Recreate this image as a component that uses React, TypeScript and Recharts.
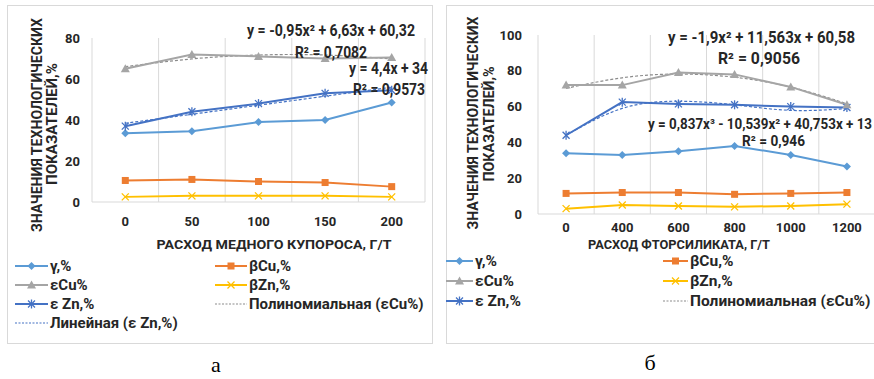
import React from 'react';
import { LineChart, Line, XAxis, YAxis, CartesianGrid } from 'recharts';

// ---------- Chart а ----------
const catsA = ['0', '50', '100', '150', '200'];
const gammaA = [33.5, 34.5, 39, 40, 48.5];
const betaCuA = [10.5, 11, 10, 9.5, 7.5];
const epsCuA = [65, 72, 71, 70, 70.5];
const betaZnA = [2.5, 3, 3, 3, 2.5];
const epsZnA = [37, 44, 48, 53, 54.5];
const polyCuA = [66, 69.8, 71.7, 71.7, 69.8];
const linZnA = [38.4, 42.8, 47.2, 51.6, 56];
const ticksA = [0, 20, 40, 60, 80];

// ---------- Chart б ----------
const catsB = ['0', '400', '600', '800', '1000', '1200'];
const gammaB = [34, 33, 35, 38, 33, 26.5];
const betaCuB = [11.5, 12, 12, 11, 11.5, 12];
const epsCuB = [72, 72, 79, 78, 71, 61];
const betaZnB = [3, 5, 4.5, 4, 4.5, 5.5];
const epsZnB = [44, 62.5, 61.5, 61, 60, 59.5];
const polyCuB = [70.2, 76.1, 78.2, 76.4, 70.9, 61.6];
const cubicZnB = [44, 59, 63, 61, 57.9, 58.9];
const ticksB = [0, 20, 40, 60, 80, 100];

const C = {
  gamma: '#5B9BD5',
  betaCu: '#ED7D31',
  epsCu: '#A5A5A5',
  betaZn: '#FFC000',
  epsZn: '#4472C4',
  polyCu: '#8C8C8C',
  linZn: '#4472C4',
};

const FONT = "Roboto, 'Liberation Sans', Arial, sans-serif";

const dataA = catsA.map((x, i) => ({
  i, x, gamma: gammaA[i], betaCu: betaCuA[i], epsCu: epsCuA[i], betaZn: betaZnA[i],
  epsZn: epsZnA[i], polyCu: polyCuA[i], trendZn: linZnA[i],
}));
const dataB = catsB.map((x, i) => ({
  i, x, gamma: gammaB[i], betaCu: betaCuB[i], epsCu: epsCuB[i], betaZn: betaZnB[i],
  epsZn: epsZnB[i], polyCu: polyCuB[i], trendZn: cubicZnB[i],
}));

type MK = 'diamond' | 'square' | 'triangle' | 'x' | 'star';

function Marker({ kind, cx, cy, color }: { kind: MK; cx: number; cy: number; color: string }) {
  if (cx == null || cy == null || isNaN(cx) || isNaN(cy)) return null;
  const r = 4;
  switch (kind) {
    case 'diamond':
      return <polygon points={`${cx},${cy - r} ${cx + r},${cy} ${cx},${cy + r} ${cx - r},${cy}`} fill={color} />;
    case 'square':
      return <rect x={cx - 3.5} y={cy - 3.5} width={7} height={7} fill={color} />;
    case 'triangle':
      return <polygon points={`${cx},${cy - 4.5} ${cx + 4.5},${cy + 3.5} ${cx - 4.5},${cy + 3.5}`} fill={color} />;
    case 'x':
      return (
        <g stroke={color} strokeWidth={1.3}>
          <line x1={cx - 3.5} y1={cy - 3.5} x2={cx + 3.5} y2={cy + 3.5} />
          <line x1={cx - 3.5} y1={cy + 3.5} x2={cx + 3.5} y2={cy - 3.5} />
        </g>
      );
    case 'star':
      return (
        <g stroke={color} strokeWidth={1.3}>
          <line x1={cx - 3.5} y1={cy - 3.5} x2={cx + 3.5} y2={cy + 3.5} />
          <line x1={cx - 3.5} y1={cy + 3.5} x2={cx + 3.5} y2={cy - 3.5} />
          <line x1={cx} y1={cy - 4.5} x2={cx} y2={cy + 4.5} />
        </g>
      );
  }
  return null;
}

const dotFn = (kind: MK, color: string) => (p: any) => (
  <Marker key={`${kind}-${p.index}`} kind={kind} cx={p.cx} cy={p.cy} color={color} />
);

const series: { key: string; color: string; kind: MK }[] = [
  { key: 'gamma', color: C.gamma, kind: 'diamond' },
  { key: 'betaCu', color: C.betaCu, kind: 'square' },
  { key: 'betaZn', color: C.betaZn, kind: 'x' },
  { key: 'epsZn', color: C.epsZn, kind: 'star' },
  { key: 'epsCu', color: C.epsCu, kind: 'triangle' },
];

function Chart({ data, cats, ticks, domainMax, width, height, margin, tickMarginY, tickMarginX }: any) {
  const n = cats.length;
  const xTicks = cats.map((_: string, i: number) => i);
  return (
    <LineChart width={width} height={height} data={data} margin={margin}>
      <CartesianGrid
        horizontal={false}
        stroke="#D9D9D9"
        verticalCoordinatesGenerator={(p: any) => {
          const o = p && p.offset ? p.offset : { left: 0, width: 0 };
          return Array.from({ length: n + 1 }, (_, k) => o.left + (o.width * k) / n);
        }}
      />
      <XAxis
        dataKey="i"
        type="number"
        domain={[-0.5, n - 0.5]}
        ticks={xTicks}
        tickFormatter={(v: number) => cats[v]}
        height={20}
        tickLine={false}
        axisLine={{ stroke: '#D9D9D9' }}
        tickMargin={tickMarginX}
        tick={{ fill: '#262626', fontSize: 13, fontWeight: 700, fontFamily: FONT }}
        interval={0}
      />
      <YAxis
        width={30}
        domain={[0, domainMax]}
        ticks={ticks}
        tickLine={false}
        axisLine={false}
        tickMargin={tickMarginY}
        tick={{ fill: '#262626', fontSize: 13, fontWeight: 700, fontFamily: FONT }}
      />
      <Line dataKey="polyCu" stroke={C.polyCu} strokeWidth={1.2} strokeDasharray="3 2" type="natural" dot={false} activeDot={false} isAnimationActive={false} />
      <Line dataKey="trendZn" stroke={C.linZn} strokeWidth={1.2} strokeDasharray="3 2" type="natural" dot={false} activeDot={false} isAnimationActive={false} />
      {series.map((s) => (
        <Line
          key={s.key}
          dataKey={s.key}
          stroke={s.color}
          strokeWidth={2}
          type="linear"
          dot={dotFn(s.kind, s.color)}
          activeDot={false}
          isAnimationActive={false}
        />
      ))}
    </LineChart>
  );
}

function LegendItem({ x, y, color, kind, label, dashed, lineW, fs }: any) {
  const w = lineW;
  return (
    <g>
      <line x1={x} y1={y} x2={x + w} y2={y} stroke={color} strokeWidth={dashed ? 1.2 : 2} strokeDasharray={dashed ? '2 1.5' : undefined} />
      {kind ? <Marker kind={kind} cx={x + w / 2} cy={y} color={color} /> : null}
      <text x={x + w + 2} y={y} dominantBaseline="central" fontFamily={FONT} fontWeight={700} fontSize={fs || 15} fill="#262626">
        {label}
      </text>
    </g>
  );
}

function Overlay() {
  const tx = { fontFamily: FONT, fontWeight: 700, fill: '#262626' } as any;
  return (
    <svg width={874} height={379} style={{ position: 'absolute', left: 0, top: 0, pointerEvents: 'none' }}>
      {/* frames */}
      <rect x={7.5} y={5.5} width={425} height={338} fill="none" stroke="#D9D9D9" />
      <rect x={446.5} y={5.5} width={440} height={338} fill="none" stroke="#D9D9D9" />

      {/* --- chart а texts --- */}
      <text transform="translate(37,125) rotate(-90)" textAnchor="middle" dominantBaseline="central" fontSize={14} textLength={214} lengthAdjust="spacingAndGlyphs" {...tx}>ЗНАЧЕНИЯ ТЕХНОЛОГИЧЕСКИХ</text>
      <text transform="translate(52,124) rotate(-90)" textAnchor="middle" dominantBaseline="central" fontSize={14} textLength={122} lengthAdjust="spacingAndGlyphs" {...tx}>ПОКАЗАТЕЛЕЙ,%</text>
      <text x={274} y={244} textAnchor="middle" dominantBaseline="central" fontSize={13} textLength={235} lengthAdjust="spacingAndGlyphs" {...tx}>РАСХОД МЕДНОГО КУПОРОСА, Г/Т</text>
      <text x={247} y={30} dominantBaseline="central" fontSize={16} textLength={168} lengthAdjust="spacingAndGlyphs" {...tx}>y = -0,95x² + 6,63x + 60,32</text>
      <text x={295} y={52} dominantBaseline="central" fontSize={16} textLength={72} lengthAdjust="spacingAndGlyphs" {...tx}>R² = 0,7082</text>
      <text x={349} y={68} dominantBaseline="central" fontSize={16} textLength={79} lengthAdjust="spacingAndGlyphs" {...tx}>y = 4,4x + 34</text>
      <text x={353} y={89} dominantBaseline="central" fontSize={16} textLength={72} lengthAdjust="spacingAndGlyphs" {...tx}>R² = 0,9573</text>

      <LegendItem x={15} y={266} lineW={33} color={C.gamma} kind="diamond" label="γ,%" />
      <LegendItem x={15} y={285} lineW={33} color={C.epsCu} kind="triangle" label="εCu%" />
      <LegendItem x={15} y={304} lineW={33} color={C.epsZn} kind="star" label="ε Zn,%" />
      <LegendItem x={15} y={323} lineW={33} color={C.linZn} dashed label="Линейная (ε Zn,%)" />
      <LegendItem x={215} y={266} lineW={32} color={C.betaCu} kind="square" label="βCu,%" />
      <LegendItem x={215} y={285} lineW={32} color={C.betaZn} kind="x" label="βZn,%" />
      <LegendItem x={215} y={304} lineW={32} color={C.polyCu} dashed label="Полиномиальная (εCu%)" />

      {/* --- chart б texts --- */}
      <text transform="translate(473,123) rotate(-90)" textAnchor="middle" dominantBaseline="central" fontSize={14} textLength={213} lengthAdjust="spacingAndGlyphs" {...tx}>ЗНАЧЕНИЯ ТЕХНОЛОГИЧЕСКИХ</text>
      <text transform="translate(489,124) rotate(-90)" textAnchor="middle" dominantBaseline="central" fontSize={14} textLength={115} lengthAdjust="spacingAndGlyphs" {...tx}>ПОКАЗАТЕЛЕЙ,%</text>
      <text x={679} y={244} textAnchor="middle" dominantBaseline="central" fontSize={13} textLength={182} lengthAdjust="spacingAndGlyphs" {...tx}>РАСХОД ФТОРСИЛИКАТА, Г/Т</text>
      <text x={668} y={37} dominantBaseline="central" fontSize={16} textLength={187} lengthAdjust="spacingAndGlyphs" {...tx}>y = -1,9x² + 11,563x + 60,58</text>
      <text x={718} y={58} dominantBaseline="central" fontSize={16} textLength={82} lengthAdjust="spacingAndGlyphs" {...tx}>R² = 0,9056</text>
      <text x={648} y={124} dominantBaseline="central" fontSize={14} textLength={224} lengthAdjust="spacingAndGlyphs" {...tx}>y = 0,837x³ - 10,539x² + 40,753x + 13</text>
      <text x={742} y={141} dominantBaseline="central" fontSize={14} textLength={63} lengthAdjust="spacingAndGlyphs" {...tx}>R² = 0,946</text>

      <LegendItem x={446} y={261} lineW={27} color={C.gamma} kind="diamond" label="γ,%" fs={15.5} />
      <LegendItem x={446} y={281} lineW={27} color={C.epsCu} kind="triangle" label="εCu%" fs={15.5} />
      <LegendItem x={446} y={301} lineW={27} color={C.epsZn} kind="star" label="ε Zn,%" fs={15.5} />
      <LegendItem x={663} y={261} lineW={25} color={C.betaCu} kind="square" label="βCu,%" fs={15.5} />
      <LegendItem x={663} y={281} lineW={25} color={C.betaZn} kind="x" label="βZn,%" fs={15.5} />
      <LegendItem x={663} y={301} lineW={25} color={C.polyCu} dashed label="Полиномиальная (εCu%)" fs={15.5} />

      {/* captions */}
      <text x={216} y={364} textAnchor="middle" dominantBaseline="central" fontSize={22} fontFamily="'Liberation Serif', 'DejaVu Serif', serif" fill="#000">а</text>
      <text x={650} y={362} textAnchor="middle" dominantBaseline="central" fontSize={22} fontFamily="'Liberation Serif', 'DejaVu Serif', serif" fill="#000">б</text>
    </svg>
  );
}

export default function App() {
  return (
    <div style={{ position: 'absolute', left: 0, top: 0, width: 874, height: 379, overflow: 'hidden', background: '#fff' }}>
      <div style={{ position: 'absolute', left: 0, top: 0 }}>
        <Chart data={dataA} cats={catsA} ticks={ticksA} domainMax={80} width={440} height={240}
          margin={{ top: 38, right: 15, bottom: 18, left: 62 }} tickMarginY={6} tickMarginX={9} />
      </div>
      <div style={{ position: 'absolute', left: 440, top: 0 }}>
        <Chart data={dataB} cats={catsB} ticks={ticksB} domainMax={100} width={440} height={240}
          margin={{ top: 35, right: 5, bottom: 6, left: 68 }} tickMarginY={10} tickMarginX={3} />
      </div>
      <Overlay />
    </div>
  );
}
